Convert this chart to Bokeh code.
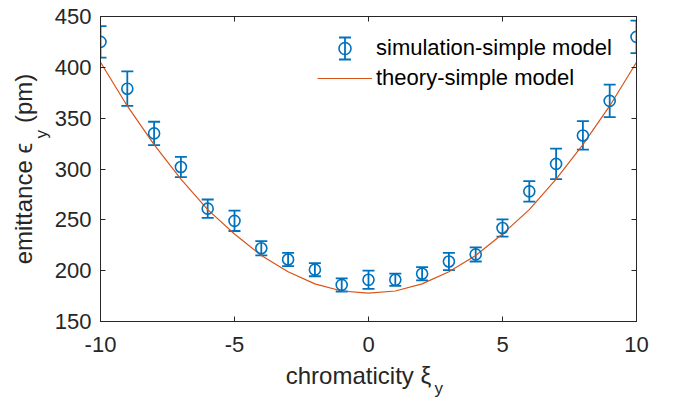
import math
from bokeh.plotting import figure
from bokeh.models import (ColumnDataSource, Whisker, TeeHead, LinearAxis, FixedTicker,
                          Range1d, Legend, LegendItem, Label)
from bokeh.embed import file_html
from bokeh.resources import INLINE

# ---- data ----
chroma = [-10, -9, -8, -7, -6, -5, -4, -3, -2, -1, 0, 1, 2, 3, 4, 5, 6, 7, 8, 9, 10]
sim_emit = [425, 379, 335, 302, 261, 249, 222, 211, 201, 186, 191, 191, 197, 209, 216, 242, 278, 305, 333, 367, 430]
sim_err = [15.5, 17, 11.5, 10, 9, 10, 7, 6.5, 6.5, 6.5, 9, 6, 6.5, 8.5, 7, 8.5, 10, 15, 14, 16, 16]
theory_emit = [405, 362, 324, 290, 260, 236, 215, 199, 187, 180, 178, 180, 187, 199, 215, 236, 260, 290, 324, 362, 405]
x_ticks = [-10, -5, 0, 5, 10]
x_tick_labels = ["-10", "-5", "0", "5", "10"]
y_ticks = [150, 200, 250, 300, 350, 400, 450]

BLUE = "#0072BD"
ORANGE = "#D95319"
AX = "#262626"
FONT = "Liberation Sans"
NB = "\u00a0"

X0, X1, Y0, Y1 = -10, 10, 150, 450
FW, FH = 536, 305

src = ColumnDataSource(dict(
    x=chroma, y=sim_emit,
    upper=[v + e for v, e in zip(sim_emit, sim_err)],
    lower=[v - e for v, e in zip(sim_emit, sim_err)],
))
tsrc = ColumnDataSource(dict(x=chroma, y=theory_emit))

p = figure(frame_width=FW, frame_height=FH, output_backend="svg", toolbar_location=None,
           x_range=Range1d(X0, X1), y_range=Range1d(Y0, Y1),
           min_border_left=100, min_border_right=30, min_border_top=16, min_border_bottom=78)
p.background_fill_color = "white"
p.border_fill_color = "white"
p.outline_line_color = AX
p.outline_line_width = 1
p.grid.visible = False

th = p.line("x", "y", source=tsrc, line_color=ORANGE, line_width=1.2)

def head():
    return TeeHead(size=12, line_color=BLUE, line_width=1.8)

wh = Whisker(base="x", upper="upper", lower="lower", source=src, dimension="height",
             line_color=BLUE, line_width=1.8, upper_head=head(), lower_head=head())
p.add_layout(wh)
circ = p.scatter("x", "y", source=src, marker="circle", size=11, fill_color=None,
                 line_color=BLUE, line_width=1.6)

for ax, ticks in ((p.xaxis[0], x_ticks), (p.yaxis[0], y_ticks)):
    ax.ticker = FixedTicker(ticks=ticks)
    ax.axis_line_color = AX
    ax.major_tick_line_color = AX
    ax.major_tick_in = 5
    ax.major_tick_out = 0
    ax.minor_tick_line_color = None
    ax.major_label_text_font = FONT
    ax.major_label_text_color = AX
    ax.major_label_text_font_size = "22px"
    ax.axis_label_text_font = FONT
    ax.axis_label_text_font_size = "24px"
    ax.axis_label_text_font_style = "normal"
    ax.axis_label_text_color = AX
p.xaxis[0].major_label_overrides = {t: s for t, s in zip(x_ticks, x_tick_labels)}
p.xaxis[0].major_label_standoff = 15
p.yaxis[0].major_label_standoff = 9
# gaps (non-breaking spaces) leave room for the sub-scripts drawn below
p.xaxis[0].axis_label = "chromaticity \u03be" + NB * 3
p.xaxis[0].axis_label_standoff = 7
p.yaxis[0].axis_label = "emittance \u03f5" + NB * 3 + "(pm)"
p.yaxis[0].axis_label_standoff = 15

top = LinearAxis(ticker=FixedTicker(ticks=x_ticks))
right = LinearAxis(ticker=FixedTicker(ticks=y_ticks))
for ax in (top, right):
    ax.axis_line_color = AX
    ax.major_tick_line_color = AX
    ax.major_tick_in = 5
    ax.major_tick_out = 0
    ax.minor_tick_line_color = None
    ax.major_label_text_color = None
    ax.major_label_text_font_size = "1px"
    ax.major_label_standoff = 0
p.add_layout(top, "above")
p.add_layout(right, "right")

# legend (position in frame pixels from bottom-left)
LEG_X, LEG_Y, GW, GH = 217, 228, 55, 30
legend = Legend(items=[
    LegendItem(label="simulation-simple model", renderers=[circ]),
    LegendItem(label="theory-simple model", renderers=[th]),
], location=(LEG_X, LEG_Y), padding=0, margin=0, spacing=0,
    glyph_width=GW, glyph_height=GH, label_height=GH, label_standoff=4,
    label_text_font=FONT, label_text_font_size="22px", label_text_color="black",
    background_fill_alpha=0, border_line_alpha=0)
p.add_layout(legend)

# error-bar part of the first legend icon, placed at the legend glyph centre
icon_cx = X0 + (LEG_X + GW / 2) / FW * (X1 - X0)
icon_cy = Y0 + (LEG_Y + 1.5 * GH) / FH * (Y1 - Y0)
icon_half = 11 / FH * (Y1 - Y0)
isrc = ColumnDataSource(dict(x=[icon_cx], upper=[icon_cy + icon_half], lower=[icon_cy - icon_half]))
p.add_layout(Whisker(base="x", upper="upper", lower="lower", source=isrc, dimension="height",
                     line_color=BLUE, line_width=1.8, upper_head=head(), lower_head=head()))

# sub-scripts of the axis titles (anchored at the frame's bottom-left corner,
# put in a side panel so that they are not clipped to the frame)
lab_kw = dict(x=X0, y=Y0, text_font=FONT, text_color=AX,
              text_baseline="alphabetic", text_align="left", text_font_size="17px")
p.add_layout(Label(x_offset=334, y_offset=-67, text="y", **lab_kw), "right")
p.add_layout(Label(x_offset=-59, y_offset=183, text="y", angle=math.pi / 2, **lab_kw), "right")

open("out.html", "w").write(file_html(p, INLINE))
